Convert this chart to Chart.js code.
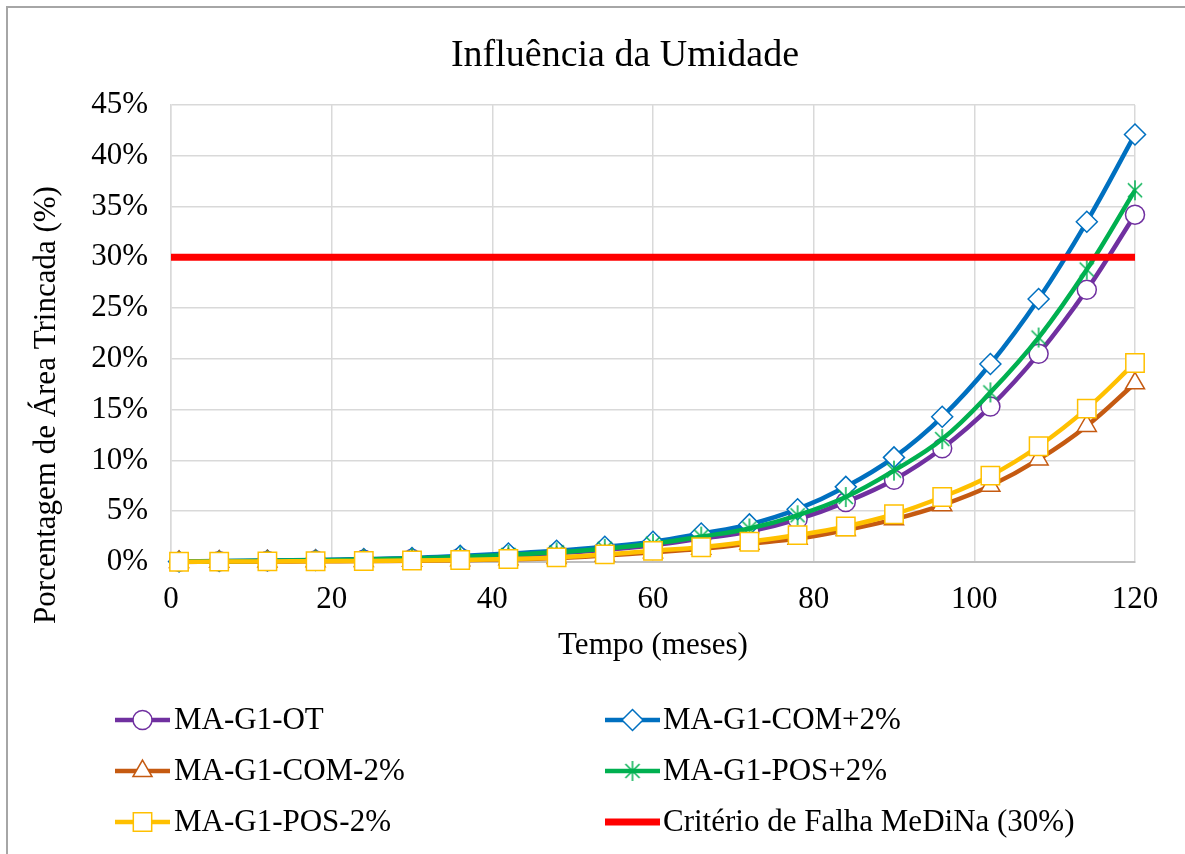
<!DOCTYPE html>
<html><head><meta charset="utf-8">
<script src="https://cdn.jsdelivr.net/npm/chart.js@4/dist/chart.umd.min.js"></script>
<style>html,body{margin:0;padding:0;background:#fff}</style>
</head><body>
<canvas id="c" width="1185" height="854" style="display:block;width:1185px;height:854px"></canvas>
<script>
// ---- data ----
const months = [1,6,12,18,24,30,36,42,48,54,60,66,72,78,84,90,96,102,108,114,120];
const maG1OT     = [0.03,0.07,0.10,0.15,0.22,0.30,0.43,0.60,0.85,1.20,1.65,2.30,3.00,4.20,5.90,8.10,11.2,15.3,20.5,26.8,34.2];
const maG1COMp2  = [0.05,0.10,0.15,0.20,0.30,0.40,0.60,0.83,1.10,1.50,2.00,2.80,3.70,5.20,7.40,10.3,14.3,19.5,25.9,33.5,42.1];
const maG1COMm2  = [0.01,0.03,0.05,0.07,0.09,0.13,0.18,0.26,0.40,0.65,0.95,1.30,1.80,2.30,3.15,4.20,5.60,7.50,10.1,13.4,17.6];
const maG1POSp2  = [0.04,0.08,0.12,0.17,0.25,0.35,0.50,0.70,0.95,1.30,1.80,2.50,3.30,4.60,6.40,9.00,12.1,16.7,22.1,28.8,36.6];
const maG1POSm2  = [0.02,0.04,0.06,0.08,0.10,0.15,0.20,0.30,0.45,0.75,1.10,1.45,2.00,2.65,3.50,4.70,6.40,8.50,11.4,15.1,19.6];
const criterioX  = [0,120];
const criterioY  = [30,30];
const seriesNames = ['MA-G1-OT','MA-G1-COM+2%','MA-G1-COM-2%','MA-G1-POS+2%','MA-G1-POS-2%','Critério de Falha MeDiNa (30%)'];
const xTicks = [0,20,40,60,80,100,120];
const yTicks = [0,5,10,15,20,25,30,35,40,45];
const titleText = 'Influência da Umidade';
const xTitle = 'Tempo (meses)';
const yTitle = 'Porcentagem de Área Trincada (%)';

const FONT = "'Liberation Serif', 'Times New Roman', serif";
const pts = (xs, ys) => xs.map((x,i)=>({x:x, y:ys[i]}));

// asterisk marker
function makeStar(color, size, lw){
  const c = document.createElement('canvas');
  c.width = size; c.height = size;
  const g = c.getContext('2d');
  g.strokeStyle = color; g.lineWidth = lw;
  const m = size/2, r = size/2 - 1;
  g.beginPath();
  g.moveTo(m, m-r); g.lineTo(m, m+r);
  const d = r*Math.SQRT1_2;
  g.moveTo(m-d, m-d); g.lineTo(m+d, m+d);
  g.moveTo(m-d, m+d); g.lineTo(m+d, m-d);
  g.stroke();
  return c;
}
const starImg = makeStar('#00b050', 22, 1.5);

const colors = ['#7030a0','#0070c0','#c55a11','#00b050','#ffc000','#ff0000'];
const styles = ['circle','rectRot','triangle',starImg,'rect',false];
const radii  = [9.5,10.5,11,11,13,0];
const values = [maG1OT, maG1COMp2, maG1COMm2, maG1POSp2, maG1POSm2];

const datasets = values.map((v,i)=>({
  label: seriesNames[i],
  data: pts(months, v),
  borderColor: colors[i],
  backgroundColor: '#ffffff',
  borderWidth: 4.5,
  pointStyle: styles[i],
  pointRadius: radii[i],
  pointBorderColor: colors[i],
  pointBackgroundColor: '#ffffff',
  pointBorderWidth: 1.5,
  tension: 0.4,
  clip: false,
  order: 5 - i
}));
datasets.push({
  label: seriesNames[5],
  data: pts(criterioX, criterioY),
  borderColor: colors[5],
  borderWidth: 7,
  pointRadius: 0,
  tension: 0,
  clip: false,
  order: 0
});

const decor = {
  id: 'decor',
  beforeDraw(chart){
    const ctx = chart.ctx;
    ctx.save();
    ctx.fillStyle = '#ffffff';
    ctx.fillRect(0,0,chart.width,chart.height);
    ctx.restore();
  },
  afterDraw(chart){
    const ctx = chart.ctx;
    ctx.save();
    // border
    ctx.fillStyle = '#a6a6a6';
    ctx.fillRect(6,6,2,chart.height-6);
    ctx.fillRect(6,6,chart.width-6,2);
    // title
    ctx.fillStyle = '#000';
    ctx.textAlign = 'center';
    ctx.textBaseline = 'middle';
    ctx.font = "38px " + FONT;
    ctx.fillText(titleText, 625, 56);
    // y title
    ctx.font = "31px " + FONT;
    ctx.translate(47, 405);
    ctx.rotate(-Math.PI/2);
    ctx.fillText(yTitle, 0, 0);
    ctx.restore();
    // legend
    const cols = [{x1:115,x2:170,tx:174},{x1:605,x2:660,tx:663}];
    const rows = [720,771,822];
    ctx.save();
    ctx.font = "31px " + FONT;
    ctx.textBaseline = 'middle';
    ctx.textAlign = 'left';
    datasets.forEach((ds,i)=>{
      const c = cols[i%2], y = rows[Math.floor(i/2)];
      ctx.strokeStyle = ds.borderColor;
      ctx.lineWidth = ds.borderWidth;
      ctx.beginPath(); ctx.moveTo(c.x1,y); ctx.lineTo(c.x2,y); ctx.stroke();
      if (ds.pointRadius > 0) {
        ctx.fillStyle = '#ffffff';
        ctx.strokeStyle = ds.pointBorderColor;
        ctx.lineWidth = ds.pointBorderWidth;
        Chart.helpers.drawPoint(ctx, {pointStyle: ds.pointStyle, radius: ds.pointRadius, rotation: 0, borderWidth: ds.pointBorderWidth}, (c.x1+c.x2)/2, y);
      }
      ctx.fillStyle = '#000';
      ctx.fillText(ds.label, c.tx, y+1);
    });
    ctx.restore();
  }
};

new Chart(document.getElementById('c'), {
  type: 'line',
  data: { datasets },
  options: {
    responsive: false,
    animation: false,
    devicePixelRatio: 1,
    layout: { padding: { left: 0, right: 50, top: 105, bottom: 182 } },
    plugins: {
      legend: { display: false },
      tooltip: { enabled: false },
      title: { display: false }
    },
    scales: {
      x: {
        type: 'linear', min: 0, max: 120,
        afterBuildTicks(s){ s.ticks = xTicks.map(v=>({value:v})); },
        afterFit(s){ s.height = 110; },
        ticks: { color: '#000', font: { family: FONT, size: 31 }, padding: 19, maxRotation: 0 },
        grid: { color: '#d9d9d9', lineWidth: 1.5, drawTicks: false },
        border: { color: '#bfbfbf', width: 2 },
        title: { display: true, text: xTitle, color: '#000', font: { family: FONT, size: 31 }, padding: { top: 0, bottom: 8 } }
      },
      y: {
        type: 'linear', min: 0, max: 45,
        afterBuildTicks(s){ s.ticks = yTicks.map(v=>({value:v})); },
        afterFit(s){ s.width = 171; },
        ticks: { color: '#000', font: { family: FONT, size: 31 }, padding: 23, callback: v => v + '%' },
        grid: { color: '#d9d9d9', lineWidth: 1.5, drawTicks: false },
        border: { color: '#d9d9d9', width: 1.5 }
      }
    }
  },
  plugins: [decor]
});
</script>
</body></html>
